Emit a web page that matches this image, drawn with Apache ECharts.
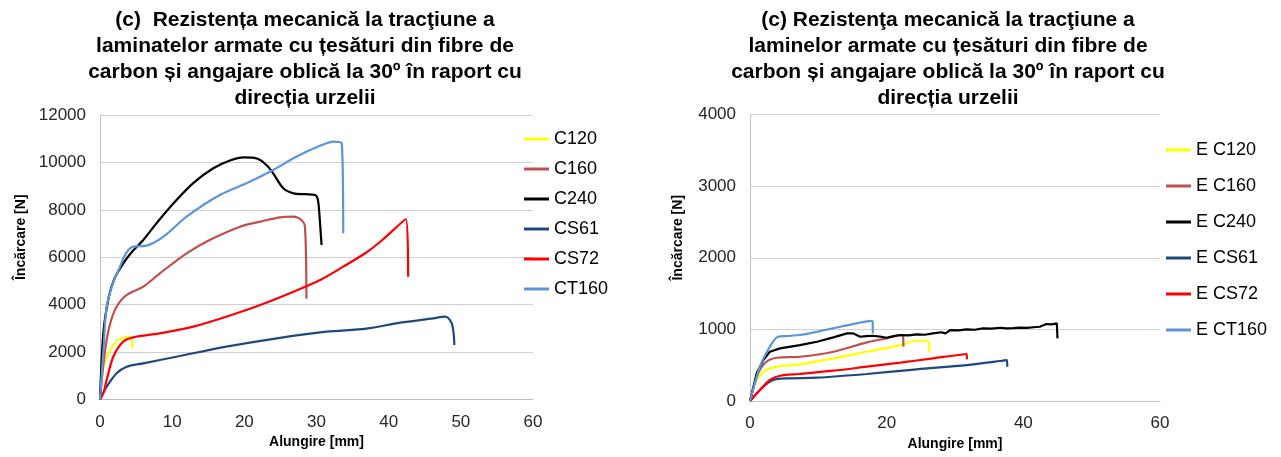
<!DOCTYPE html>
<html>
<head>
<meta charset="utf-8">
<script src="https://cdn.jsdelivr.net/npm/echarts@6/dist/echarts.min.js"></script>
<style>
html,body{margin:0;padding:0;background:#fff;}
#chart{width:1281px;height:457px;}
</style>
</head>
<body>
<div id="chart"></div>
<script>
// ---- Left chart data (Alungire [mm], Încărcare [N]) ----
const leftNames = ['C120','C160','C240','CS61','CS72','CT160'];
const C120_x = [0,0.2,0.46,1.39,2.5,3.5,4.15,4.4,4.5];
const C120_y = [0,700,1383,2088,2510,2620,2649,2510,2159];
const C160_x = [0,0.4,0.92,1.5,2.3,3.7,6.0,8.3,12.0,15.2,19.4,22.2,24.9,26.8,27.9,28.4,28.6];
const C160_y = [0,1300,2510,3300,3914,4408,4758,5323,6167,6728,7289,7500,7685,7711,7571,7290,4250];
const C240_x = [0,0.46,1.2,2.0,3.23,4.5,6.0,8.0,10.6,13,15.7,18,19.9,21.2,22.2,23.2,24.0,25.4,26.8,28.5,29.8,30.2,30.5,30.7];
const C240_y = [0,2790,4300,5100,5745,6250,6728,7500,8415,9150,9752,10080,10216,10200,10102,9850,9540,8908,8697,8660,8626,8415,7400,6517];
const CS61_x = [0,0.4,0.92,2.3,3.7,6.0,10.6,17.5,24.5,31.4,36.9,41.6,46.2,47.8,48.7,49.0,49.1];
const CS61_y = [0,250,540,1105,1383,1527,1805,2228,2581,2860,2990,3240,3424,3493,3240,2790,2300];
const CS72_x = [0,0.5,0.92,1.84,3.2,4.6,8.3,12.9,17.5,22.2,26.8,30.5,33.7,36.9,39.2,42.4,42.7];
const CS72_y = [0,300,822,1805,2438,2622,2790,3071,3493,3986,4547,5041,5603,6200,6750,7614,5180];
const CT160_x = [0,0.5,0.92,1.8,2.77,3.4,3.93,4.6,6.46,8.8,12.0,16.6,20.3,24.0,26.8,29.1,31.4,32.3,33.5,33.7];
const CT160_y = [0,2200,3914,4900,5602,6050,6306,6446,6488,6868,7711,8626,9120,9681,10174,10524,10807,10874,10807,7010];

// ---- Right chart data ----
const rightNames = ['E C120','E C160','E C240','E CS61','E CS72','E CT160'];
const EC120_x = [0,0.73,1.7,2.9,4.9,7.3,12.2,17.1,22.0,24.4,25.9,26.2,26.25];
const EC120_y = [0,247,386,456,492,512,596,688,781,841,841,800,679];
const EC160_x = [0,1.2,2.4,3.9,7.3,12.2,17.1,20.0,22.2,22.4,22.45];
const EC160_y = [0,386,548,604,618,688,819,875,921,900,757];
const EC240_x = [0,0.98,1.95,2.9,4.4,7.3,9.8,12.2,14.2,15.1,16.1,17.0,18.0,19.0,20.0,21.0,22.0,23.2,24.4,25.6,26.8,28.0,28.6,29.3,30.5,31.7,32.9,34.1,35.3,36.6,37.5,38.5,39.5,40.5,41.5,42.4,43.4,44.2,44.9,45.0];
const EC240_y = [0,386,572,688,735,781,827,888,944,944,897,905,911,900,883,905,921,915,930,925,944,960,945,990,985,1000,995,1014,1010,1023,1015,1018,1025,1020,1030,1037,1074,1070,1084,875];
const ECS61_x = [0,1.95,3.4,5.4,9.8,17.1,24.4,31.7,36.6,37.6,37.65];
const ECS61_y = [0,200,293,316,325,377,442,502,558,572,479];
const ECS72_x = [0,1.46,2.9,4.4,7.3,12.2,17.1,22.0,26.8,31.7,31.75];
const ECS72_y = [0,153,293,353,377,423,479,535,596,656,582];
const ECT160_x = [0,1.46,2.9,4.1,5.4,7.3,9.8,13.2,15.6,17.7,17.95,17.97];
const ECT160_y = [0,479,757,897,907,921,967,1037,1084,1120,1110,944];

// ---- Ticks ----
const leftXTicks = [0,10,20,30,40,50,60];
const leftYTicks = [0,2000,4000,6000,8000,10000,12000];
const rightXTicks = [0,20,40,60];
const rightYTicks = [0,1000,2000,3000,4000];

const colors = ['#FFFF00','#C0504D','#000000','#1F497D','#FF0000','#5B95DC'];
const zip = (xs, ys) => xs.map((x, i) => [x, ys[i]]);

const leftData = [zip(C120_x,C120_y), zip(C160_x,C160_y), zip(C240_x,C240_y), zip(CS61_x,CS61_y), zip(CS72_x,CS72_y), zip(CT160_x,CT160_y)];
const rightData = [zip(EC120_x,EC120_y), zip(EC160_x,EC160_y), zip(EC240_x,EC240_y), zip(ECS61_x,ECS61_y), zip(ECS72_x,ECS72_y), zip(ECT160_x,ECT160_y)];

const FONT = 'Liberation Sans, Arial, sans-serif';
const gridColor = '#D0D0D0';
const axisColor = '#BFBFBF';

function xAxis(gi, ticks) {
  return {
    type: 'value', gridIndex: gi, min: ticks[0], max: ticks[ticks.length-1],
    interval: ticks[1]-ticks[0],
    name: 'Alungire [mm]', nameLocation: 'middle', nameGap: 36,
    nameTextStyle: {fontFamily: FONT, fontSize: 14, fontWeight: 'bold', color: '#000'},
    axisLine: {show: true, lineStyle: {color: axisColor, width: 1}},
    axisTick: {show: false},
    splitLine: {show: false},
    axisLabel: {fontFamily: FONT, fontSize: 17, color: '#262626', margin: 14, formatter: v => String(v)}
  };
}
function yAxis(gi, ticks, gap) {
  return {
    type: 'value', gridIndex: gi, min: ticks[0], max: ticks[ticks.length-1],
    interval: ticks[1]-ticks[0],
    name: 'Încărcare [N]', nameLocation: 'middle', nameGap: gap,
    nameTextStyle: {fontFamily: FONT, fontSize: 14, fontWeight: 'bold', color: '#000', padding: [0,0,0,40]},
    axisLine: {show: true, lineStyle: {color: axisColor, width: 1}},
    axisTick: {show: false},
    splitLine: {show: true, lineStyle: {color: gridColor, width: 1}},
    axisLabel: {fontFamily: FONT, fontSize: 17, color: '#262626', margin: 14, formatter: v => String(v)}
  };
}

const series = [];
leftNames.forEach((n, i) => series.push({
  name: n, type: 'line', xAxisIndex: 0, yAxisIndex: 0, data: leftData[i],
  showSymbol: false, smooth: 0.3, color: colors[i], lineStyle: {width: 2.2, color: colors[i]}
}));
rightNames.forEach((n, i) => series.push({
  name: n, type: 'line', xAxisIndex: 1, yAxisIndex: 1, data: rightData[i],
  showSymbol: false, smooth: i === 2 ? false : 0.3, color: colors[i], lineStyle: {width: 2.2, color: colors[i]}
}));

const titleStyle = {fontFamily: FONT, fontSize: 21, fontWeight: 'bold', color: '#000', lineHeight: 26};

const option = {
  animation: false,
  backgroundColor: '#fff',
  title: [
    {text: '(c)  Rezistența mecanică la tracţiune a\nlaminatelor armate cu țesături din fibre de\ncarbon și angajare oblică la 30º în raport cu\ndirecția urzelii',
     left: 300, top: 2, textAlign: 'center', textStyle: titleStyle},
    {text: '(c) Rezistenţa mecanică la tracţiune a\nlaminelor armate cu țesături din fibre de\ncarbon și angajare oblică la 30º în raport cu\ndirecția urzelii',
     left: 943, top: 2, textAlign: 'center', textStyle: titleStyle}
  ],
  grid: [
    {left: 100, right: 748, top: 115, bottom: 57.5},
    {left: 750, right: 121, top: 114.5, bottom: 56}
  ],
  xAxis: [xAxis(0, leftXTicks), xAxis(1, rightXTicks)],
  yAxis: [yAxis(0, leftYTicks, 72), yAxis(1, rightYTicks, 65)],
  legend: [
    {data: leftNames, orient: 'vertical', left: 524, top: 130, padding: 0, itemGap: 12, itemWidth: 25, itemHeight: 3,
     icon: 'rect', textStyle: {fontFamily: FONT, fontSize: 18, color: '#000'}},
    {data: rightNames, orient: 'vertical', left: 1166, top: 141, padding: 0, itemGap: 18, itemWidth: 25, itemHeight: 3,
     icon: 'rect', textStyle: {fontFamily: FONT, fontSize: 18, color: '#000'}}
  ],
  series: series
};

const chart = echarts.init(document.getElementById('chart'), null, {renderer: 'canvas'});
chart.setOption(option);
</script>
</body>
</html>
